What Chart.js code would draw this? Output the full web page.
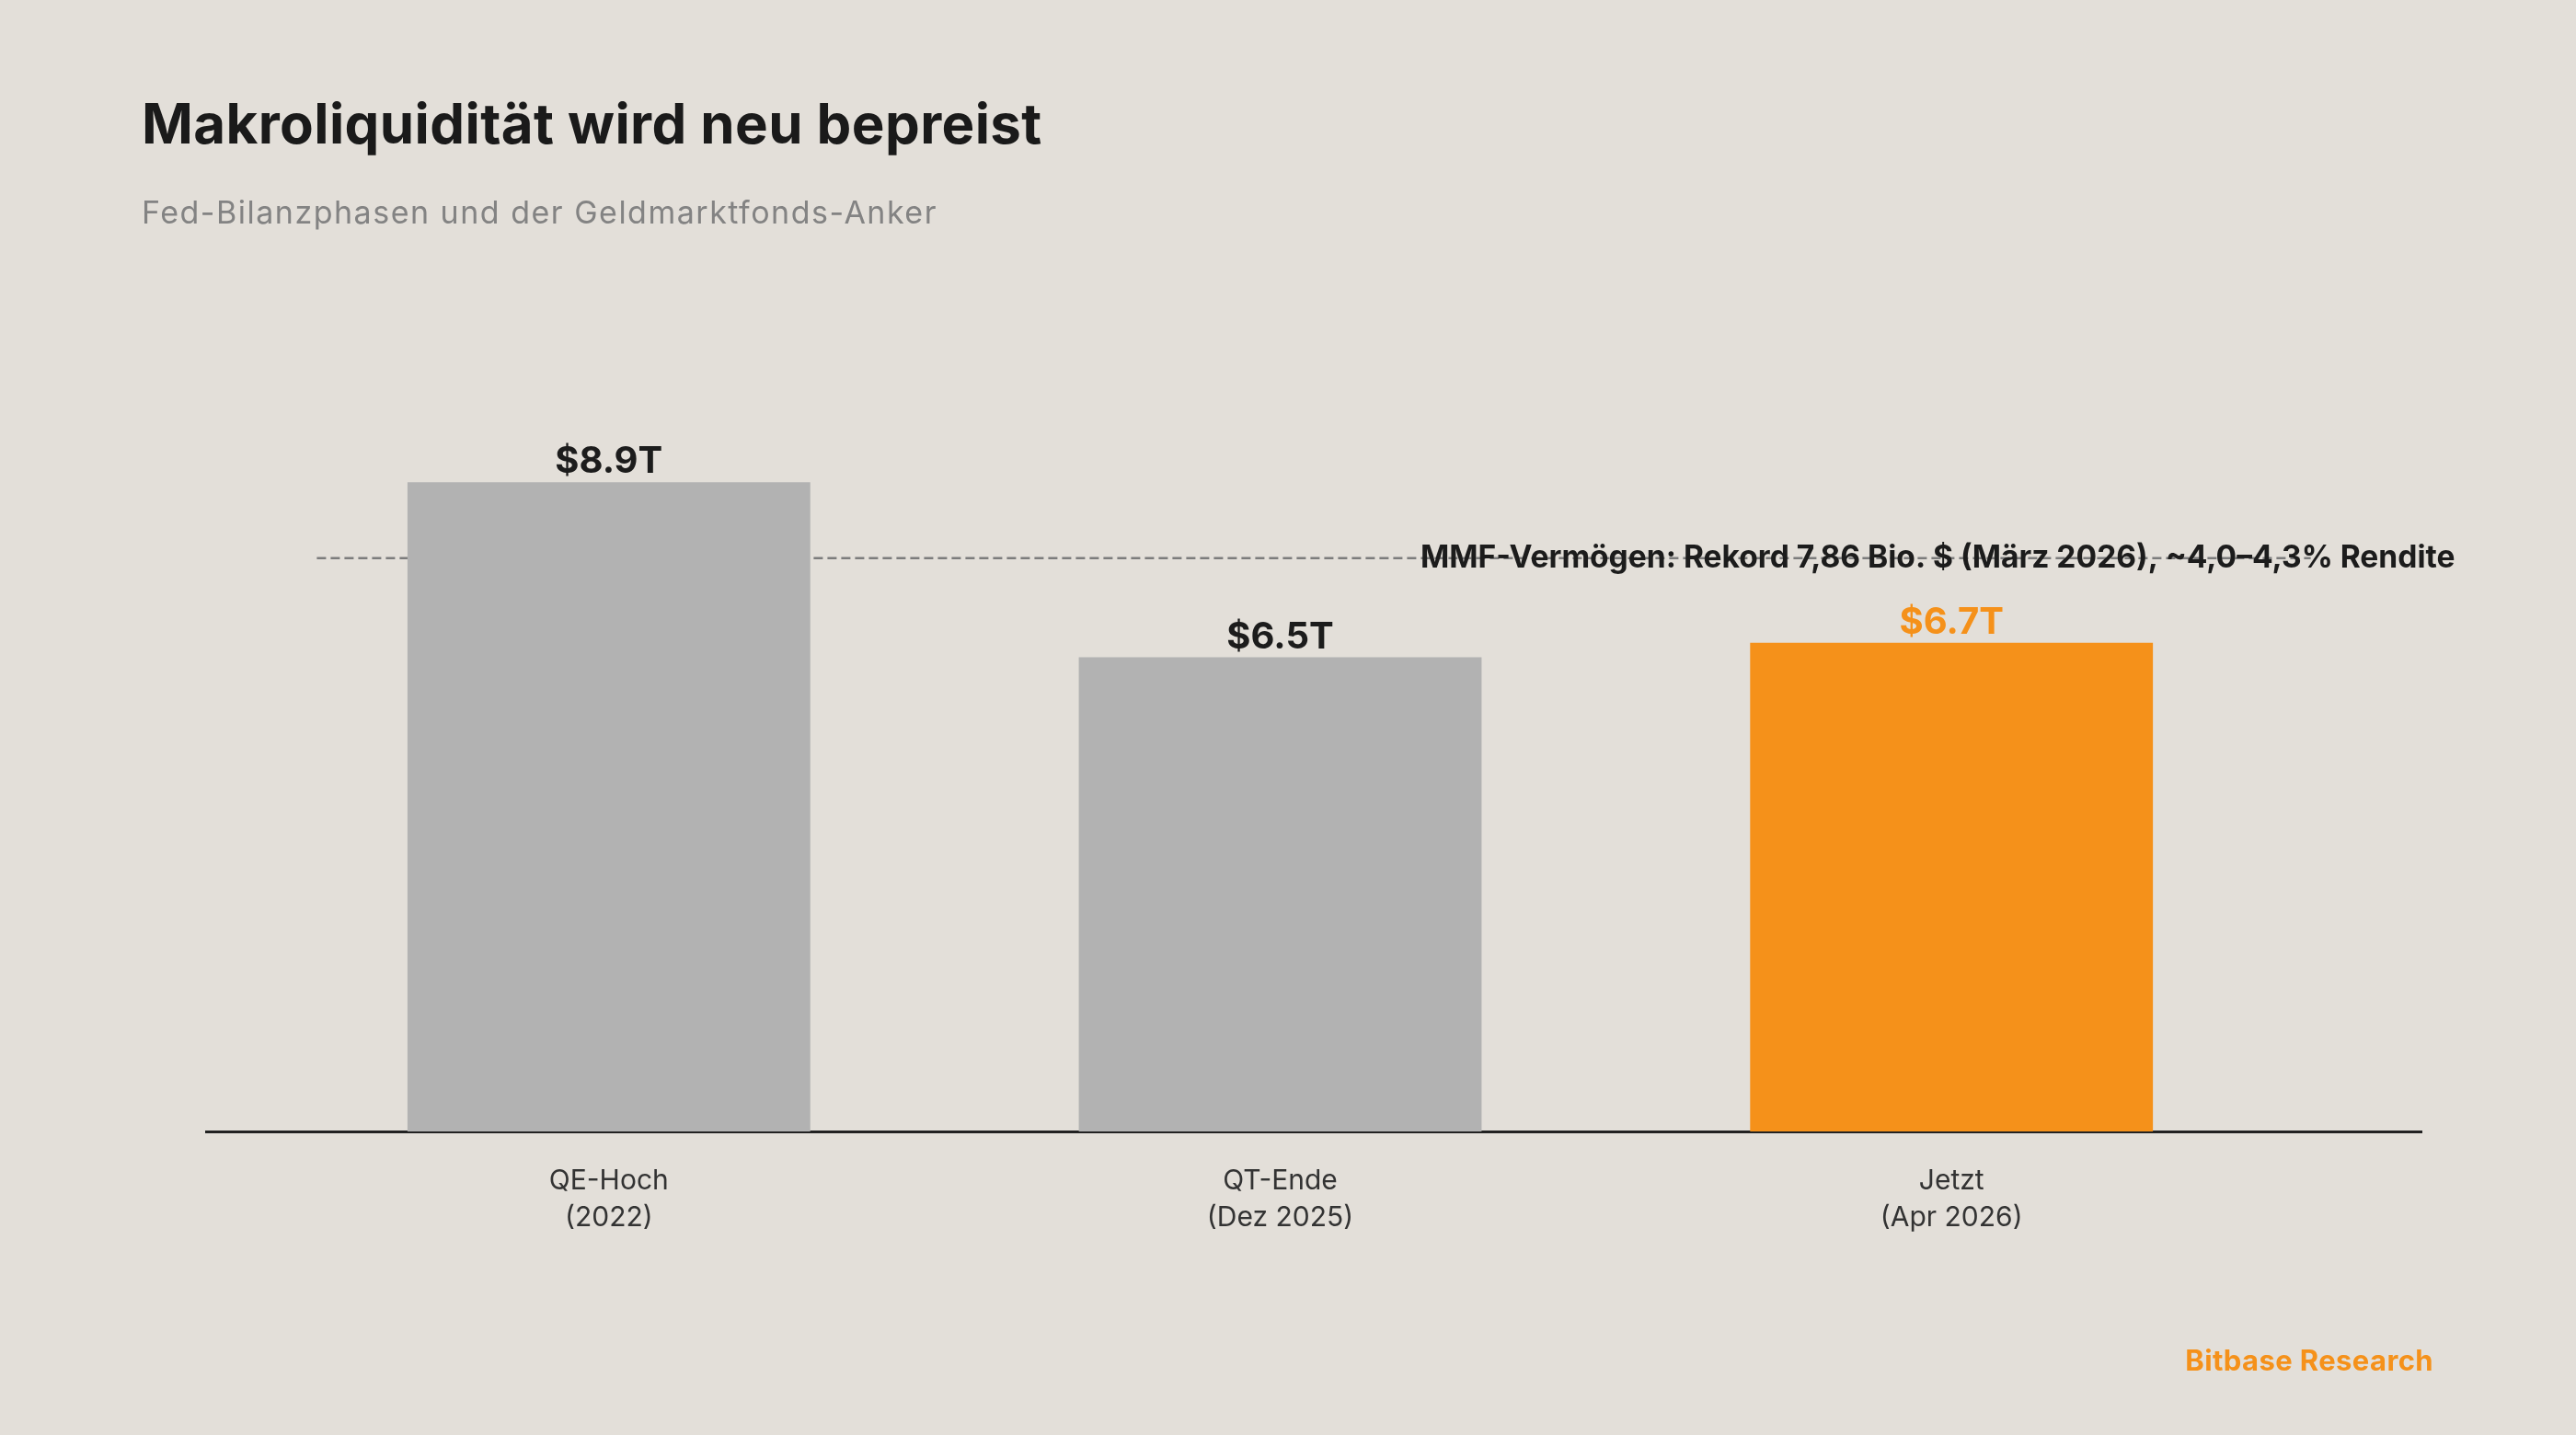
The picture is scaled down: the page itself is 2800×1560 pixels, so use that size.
<!DOCTYPE html>
<html lang="de">
<head>
<meta charset="utf-8">
<title>Makroliquidität wird neu bepreist</title>
<script src="https://cdn.jsdelivr.net/npm/chart.js@4.4.1/dist/chart.umd.min.js"></script>
<style>
  html, body { margin: 0; padding: 0; background: #E3DFD9; }
  body { width: 2800px; height: 1560px; position: relative; overflow: hidden; font-family: Inter, "Open Sans", sans-serif; }
  canvas { position: absolute; left: 0; top: 0; }
  .txt { position: absolute; white-space: nowrap; line-height: 1; }
  #title { left: 154px; top: 104px; font-size: 60px; font-weight: 700; color: #1a1a1a; letter-spacing: 0.4px; }
  #subtitle { left: 154px; top: 214px; font-size: 34px; font-weight: 400; color: #838383; letter-spacing: 1.5px; }
  #footer { right: 155px; top: 1463px; font-size: 31px; font-weight: 700; color: #F5911A; letter-spacing: 0.4px; }
</style>
</head>
<body>
<canvas id="chart" width="2800" height="1560"></canvas>
<div class="txt" id="title">Makroliquidität wird neu bepreist</div>
<div class="txt" id="subtitle">Fed-Bilanzphasen und der Geldmarktfonds-Anker</div>
<div class="txt" id="footer">Bitbase Research</div>

<script>
// data
const categories = [["QE-Hoch", "(2022)"], ["QT-Ende", "(Dez 2025)"], ["Jetzt", "(Apr 2026)"]];
const values = [8.9, 6.5, 6.7];
const valueLabels = ["$8.9T", "$6.5T", "$6.7T"];
const barColors = ["#B2B2B2", "#B2B2B2", "#F5911A"];
const labelColors = ["#1c1c1c", "#1c1c1c", "#F5911A"];
const mmfLevel = 7.86;
const mmfLabel = "MMF-Vermögen: Rekord 7,86 Bio. $ (März 2026), ~4,0–4,3% Rendite";

const FONT = "Inter";

// dashed MMF line behind the bars, text labels on top
const annotations = {
    id: "annotations",
    beforeDatasetsDraw(chart) {
        const {ctx, chartArea, scales: {y}} = chart;
        const w = chartArea.right - chartArea.left;
        const yRef = y.getPixelForValue(mmfLevel);
        ctx.save();
        ctx.strokeStyle = "#7c7c7c";
        ctx.lineWidth = 2.5;
        ctx.setLineDash([10, 5]);
        ctx.beginPath();
        ctx.moveTo(chartArea.left + w * 0.05, yRef);
        ctx.lineTo(chartArea.left + w * 0.95, yRef);
        ctx.stroke();
        ctx.restore();
    },
    afterDatasetsDraw(chart) {
        const {ctx, scales: {x, y}} = chart;
        const meta = chart.getDatasetMeta(0);
        ctx.save();
        ctx.textAlign = "center";
        ctx.textBaseline = "alphabetic";
        ctx.font = `700 40px ${FONT}`;
        meta.data.forEach((bar, i) => {
            ctx.fillStyle = labelColors[i];
            ctx.fillText(valueLabels[i], bar.x, bar.y - 10);
        });
        ctx.font = `700 33.6px ${FONT}`;
        ctx.fillStyle = "#1c1c1c";
        ctx.textAlign = "right";
        ctx.textBaseline = "middle";
        ctx.fillText(mmfLabel, x.getPixelForValue(2.75), y.getPixelForValue(mmfLevel));
        ctx.restore();
    }
};

new Chart(document.getElementById("chart"), {
    type: "bar",
    data: {
        datasets: [{
            data: values.map((v, i) => ({x: i, y: v})),
            backgroundColor: barColors,
            borderWidth: 0,
            barPercentage: 0.6,
            categoryPercentage: 1,
        }],
    },
    options: {
        responsive: false,
        animation: false,
        devicePixelRatio: 1,
        layout: {padding: {left: 224, right: 168, top: 437, bottom: 0}},
        plugins: {legend: {display: false}, tooltip: {enabled: false}},
        scales: {
            x: {
                type: "linear",
                offset: false,
                min: -0.6,
                max: 2.7,
                afterBuildTicks: (s) => { s.ticks = categories.map((_, i) => ({value: i})); },
                afterFit: (s) => { s.height = 330; },
                grid: {display: false, drawTicks: false, offset: false},
                border: {display: true, color: "#222222", width: 3},
                ticks: {
                    callback: (v) => categories[v],
                    color: "#333333",
                    font: {family: FONT, size: 30, lineHeight: 1.33},
                    padding: 34,
                    maxRotation: 0,
                    autoSkip: false,
                },
            },
            y: {display: false, min: 0, max: 10},
        },
    },
    plugins: [annotations],
});
</script>
</body>
</html>
